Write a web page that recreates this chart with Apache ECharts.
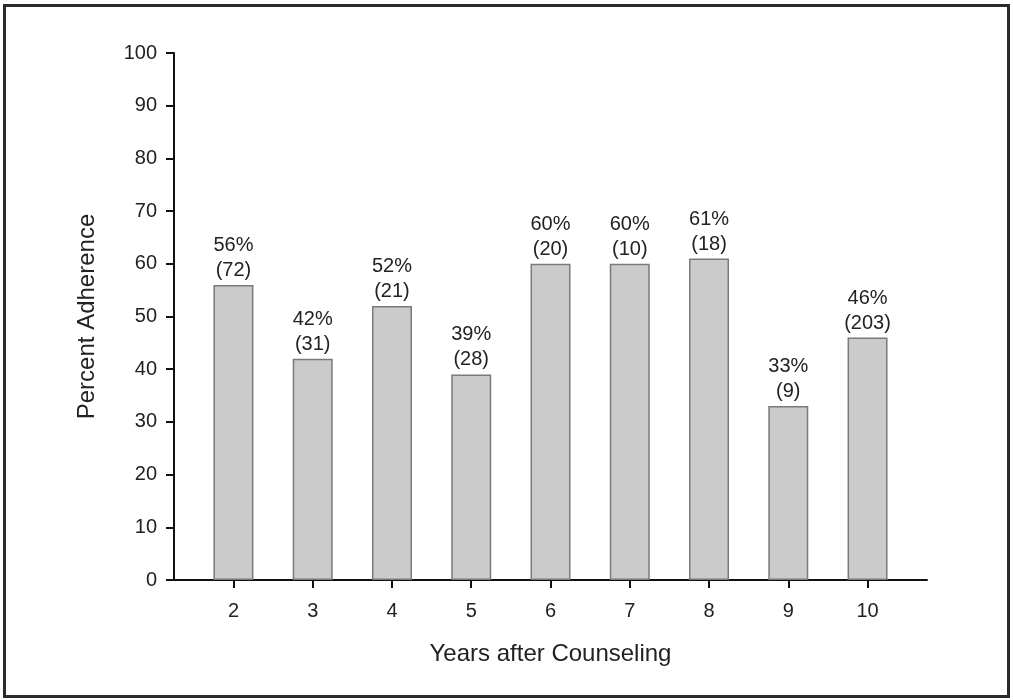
<!DOCTYPE html>
<html>
<head>
<meta charset="utf-8">
<script src="https://cdn.jsdelivr.net/npm/echarts@6/dist/echarts.min.js"></script>
<style>
html,body{margin:0;padding:0;background:#fff;}
#chart{width:1013px;height:700px;position:absolute;left:0;top:0;}
#frame{position:absolute;left:3px;top:4px;width:1007px;height:694px;border:3px solid #2b2b2b;box-sizing:border-box;pointer-events:none;}
</style>
</head>
<body>
<div id="chart"></div>
<div id="frame"></div>
<script>
const years = [2, 3, 4, 5, 6, 7, 8, 9, 10];
const percents = [56, 42, 52, 39, 60, 60, 61, 33, 46];
const counts = [72, 31, 21, 28, 20, 10, 18, 9, 203];
const yTicks = [0, 10, 20, 30, 40, 50, 60, 70, 80, 90, 100];

const font = '"Liberation Sans", Arial, sans-serif';
const chart = echarts.init(document.getElementById('chart'), null, {renderer: 'canvas'});
chart.setOption({
  animation: false,
  backgroundColor: '#ffffff',
  grid: {left: 174, right: 86, top: 53, bottom: 120, containLabel: false},
  xAxis: {
    type: 'value',
    min: 1.25,
    max: 10.75,
    name: 'Years after Counseling',
    nameLocation: 'middle',
    nameGap: 62,
    nameTextStyle: {fontFamily: font, fontSize: 24, color: '#222'},
    axisLine: {show: true, onZero: false, lineStyle: {color: '#111', width: 2}},
    axisTick: {show: true, length: 8, lineStyle: {color: '#111', width: 2}, customValues: years},
    axisLabel: {fontFamily: font, fontSize: 20, color: '#222', margin: 21, customValues: years},
    splitLine: {show: false}
  },
  yAxis: {
    type: 'value',
    min: 0,
    max: 100,
    interval: 10,
    name: 'Percent Adherence',
    nameLocation: 'middle',
    nameGap: 75,
    nameTextStyle: {fontFamily: font, fontSize: 24, color: '#222'},
    axisLine: {show: true, lineStyle: {color: '#111', width: 2}},
    axisTick: {show: true, length: 8, lineStyle: {color: '#111', width: 2}},
    axisLabel: {fontFamily: font, fontSize: 20, color: '#222', margin: 17},
    splitLine: {show: false}
  },
  series: [{
    type: 'bar',
    barWidth: 40,
    data: years.map((y, i) => [y, percents[i]]),
    itemStyle: {color: '#cbcbcb', borderColor: '#7a7a7a', borderWidth: 1.5},
    label: {
      show: true,
      position: 'top',
      distance: 2,
      fontFamily: font,
      fontSize: 20,
      lineHeight: 25,
      color: '#222',
      formatter: p => percents[p.dataIndex] + '%\n(' + counts[p.dataIndex] + ')'
    }
  }]
});
</script>
</body>
</html>
